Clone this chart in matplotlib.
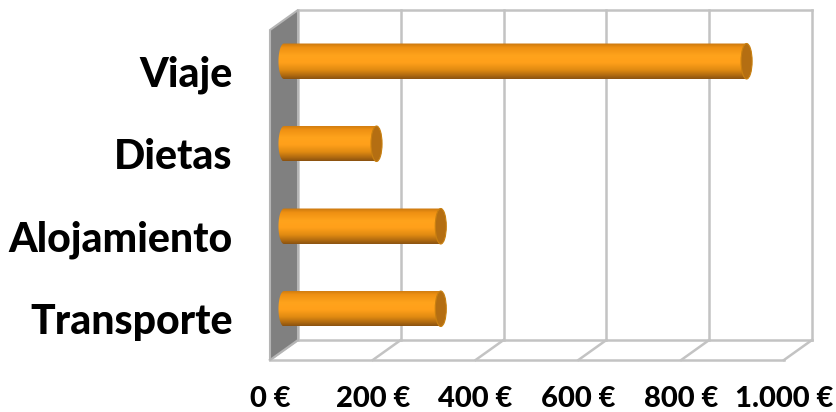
import matplotlib
matplotlib.use("Agg")
import matplotlib.pyplot as plt
import numpy as np
from matplotlib.patches import Polygon, Ellipse
from matplotlib.colors import LinearSegmentedColormap

categories = ["Transporte", "Alojamiento", "Dietas", "Viaje"]
values = [305, 305, 180, 900]
ticks = [0, 200, 400, 600, 800, 1000]
tick_labels = ["0 €", "200 €", "400 €", "600 €", "800 €", "1.000 €"]

plt.rcParams['font.family'] = ['Lato', 'DejaVu Sans']

W, H = 836, 412
fig = plt.figure(figsize=(W / 100, H / 100), dpi=100)

# depth offset of the 3D box (in data units)
DX = 54.5
DY = 0.2424
ax = fig.add_axes([270 / W, 52 / H, 542 / W, 350 / H])
ax.set_xlim(0, 1000 + DX)
ax.set_ylim(-0.5, 3.5 + DY)
for s in ax.spines.values():
    s.set_visible(False)

grid_c = "#c3c3c3"
lw = 1.8
# back wall gridlines + floor
for t in ticks:
    ax.plot([t + DX, t + DX], [-0.5 + DY, 3.5 + DY], color=grid_c, lw=lw, clip_on=False, zorder=1)
    ax.plot([t, t + DX], [-0.5, -0.5 + DY], color=grid_c, lw=lw, clip_on=False, zorder=1)
ax.plot([DX, 1000 + DX], [3.5 + DY, 3.5 + DY], color=grid_c, lw=lw, clip_on=False, zorder=1)
ax.plot([DX, 1000 + DX], [-0.5 + DY, -0.5 + DY], color=grid_c, lw=lw, clip_on=False, zorder=1)
ax.plot([0, 1000], [-0.5, -0.5], color=grid_c, lw=lw, clip_on=False, zorder=1)

# left side wall
wall = Polygon([(0, -0.5), (0, 3.5), (DX, 3.5 + DY), (DX, -0.5 + DY)], closed=True,
               facecolor="#808080", edgecolor="#b5b5b5", lw=1.5, clip_on=False, zorder=2)
ax.add_patch(wall)

# cylinder bars
cmap = LinearSegmentedColormap.from_list("cyl", [
    (0.0, "#c8760e"), (0.12, "#ee9012"), (0.35, "#ffa31c"), (0.55, "#ffa01a"),
    (0.75, "#e08a12"), (0.9, "#b06a10"), (1.0, "#8a5210")])
grad = np.linspace(0, 1, 200).reshape(-1, 1)
bh = 0.43
ew = 21.5
for i, v in enumerate(values):
    x0 = DX / 2
    yc = i + DY / 2
    x1 = x0 + v
    th = np.linspace(np.pi / 2, 3 * np.pi / 2, 40)
    left = np.column_stack([x0 + ew / 2 * np.cos(th), yc + bh / 2 * np.sin(th)])
    verts = np.vstack([left, [[x1, yc - bh / 2], [x1, yc + bh / 2], left[0]]])
    body = Polygon(verts, closed=True, facecolor="none", edgecolor="none")
    ax.add_patch(body)
    im = ax.imshow(grad, cmap=cmap, aspect="auto", origin="upper",
                   extent=[x0 - ew / 2, x1, yc - bh / 2, yc + bh / 2], zorder=3,
                   interpolation="bilinear")
    im.set_clip_path(body)
    cap = Ellipse((x1, yc), ew, bh, facecolor="#b46e12", edgecolor="#c98010", lw=0.8, zorder=4)
    ax.add_patch(cap)

ax.set_xlim(0, 1000 + DX)
ax.set_ylim(-0.5, 3.5 + DY)

ax.set_xticks(ticks)
ax.set_xticklabels(tick_labels, fontsize=21, fontweight=900)
ax.set_yticks(range(len(categories)))
ax.set_yticklabels(categories, fontsize=29.5, fontweight=900)
ax.tick_params(axis="x", length=0, pad=19)
ax.tick_params(axis="y", length=0, pad=27)

fig.savefig("out.png", dpi=100)
